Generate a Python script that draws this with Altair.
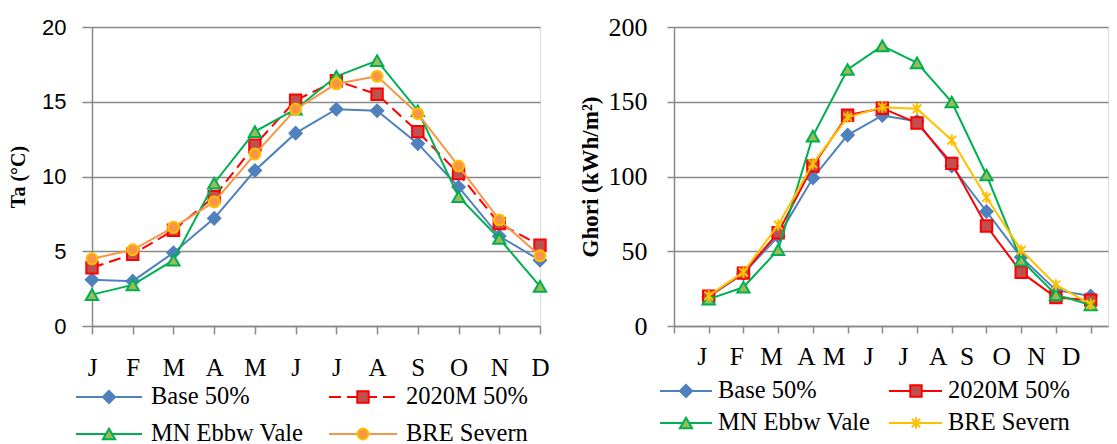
import altair as alt
import pandas as pd

months = ["J", "F", "M", "A", "M", "J", "J", "A", "S", "O", "N", "D"]
series_names = ["Base 50%", "2020M 50%", "MN Ebbw Vale", "BRE Severn"]

# Air temperature Ta (°C)
ta_base = [3.1, 3.0, 4.9, 7.2, 10.4, 12.9, 14.5, 14.4, 12.2, 9.3, 6.0, 4.4]
ta_2020m = [3.9, 4.8, 6.4, 8.65, 12.1, 15.1, 16.4, 15.5, 13.0, 10.2, 6.85, 5.4]
ta_mn = [2.1, 2.75, 4.4, 9.55, 13.0, 14.5, 16.7, 17.75, 14.4, 8.65, 5.85, 2.65]
ta_bre = [4.5, 5.1, 6.6, 8.3, 11.5, 14.5, 16.2, 16.7, 14.2, 10.7, 7.1, 4.7]

# Global horizontal irradiation Ghori (kWh/m²)
gh_base = [19.6, 35, 60, 99, 127.7, 140.8, 137, 107, 76.6, 46, 24, 20]
gh_2020m = [20, 35.4, 62.4, 107, 141, 145.7, 135.8, 108.8, 66.9, 36, 19, 17.3]
gh_mn = [18, 25.9, 51, 127, 171.6, 187.4, 176, 149.8, 101, 44, 21, 14]
gh_bre = [20.3, 36, 67.6, 108.6, 139.6, 146.4, 145.3, 124.3, 86, 50.7, 27.5, 14.6]

GREY = "#898989"
SERIF = "Liberation Serif"
SANS = "Liberation Sans"

ASTERISK = "M0,-1L0,1M-0.75,-0.75L0.75,0.75M-0.75,0.75L0.75,-0.75"

left_styles = {
    "Base 50%": dict(line="#4F81BD", shape="diamond", fill="#4F81BD", stroke="#4F81BD", size=150, filled=True),
    "2020M 50%": dict(line="#FF0000", dash=[12, 6], shape="square", fill="#C0504D", stroke="#FF0000", size=130, filled=True),
    "MN Ebbw Vale": dict(line="#00B050", shape="triangle-up", fill="#9BBB59", stroke="#00B050", size=150, filled=True),
    "BRE Severn": dict(line="#F79646", shape="circle", fill="#F79646", stroke="#FFC000", size=120, filled=True),
}
right_styles = {
    "Base 50%": dict(line="#4F81BD", shape="diamond", fill="#4F81BD", stroke="#4F81BD", size=150, filled=True),
    "2020M 50%": dict(line="#FF0000", shape="square", fill="#C0504D", stroke="#FF0000", size=130, filled=True),
    "MN Ebbw Vale": dict(line="#00B050", shape="triangle-up", fill="#9BBB59", stroke="#00B050", size=150, filled=True),
    "BRE Severn": dict(line="#FFC000", shape=ASTERISK, fill="#FFC000", stroke="#FFC000", size=130, filled=False),
}

label_list = "[" + ",".join("'%s'" % m for m in months) + "]"


def point_mark(st):
    if st["filled"]:
        return dict(shape=st["shape"], filled=True, fill=st["fill"], stroke=st["stroke"],
                    strokeWidth=2, size=st["size"], opacity=1)
    return dict(shape=st["shape"], filled=False, stroke=st["stroke"], strokeWidth=2,
                size=st["size"], opacity=1)


def line_mark(st):
    d = dict(color=st["line"], strokeWidth=2)
    if "dash" in st:
        d["strokeDash"] = st["dash"]
    return d


def panel(values, styles, xscale, xaxis, yscale, yaxis, legend, width, height):
    layers = []
    for name, vals in zip(series_names, values):
        st = styles[name]
        df = pd.DataFrame({"m": list(range(1, len(months) + 1)), "v": vals, "series": name})
        base = alt.Chart(df).encode(
            x=alt.X("m:Q", scale=xscale, axis=xaxis),
            y=alt.Y("v:Q", scale=yscale, axis=yaxis),
        )
        layers.append(base.mark_line(**line_mark(st)))
        layers.append(base.mark_point(**point_mark(st)))
    # legend
    for i, name in enumerate(series_names):
        st = styles[name]
        col, row = i % 2, i // 2
        x1, x2, xm, xt = legend["cols"][col]
        y = legend["rows"][row]
        ldf = pd.DataFrame({"label": [name]})
        layers.append(alt.Chart(ldf).mark_rule(**line_mark(st)).encode(
            x=alt.value(x1), x2=alt.value(x2), y=alt.value(y)))
        layers.append(alt.Chart(ldf).mark_point(**point_mark(st)).encode(
            x=alt.value(xm), y=alt.value(y)))
        layers.append(alt.Chart(ldf).mark_text(
            align="left", baseline="middle", font=SERIF, fontSize=24.5, color="black"
        ).encode(x=alt.value(xt), y=alt.value(y), text="label:N"))
    return alt.layer(*layers).properties(width=width, height=height)


left_x_axis = alt.Axis(
    values=list(range(1, 13)), labelExpr=label_list + "[datum.value-1]", title=None,
    grid=False, domainColor=GREY, domainWidth=1.5, tickColor=GREY, tickWidth=1.5, tickSize=8,
    labelFont=SERIF, labelFontSize=25, labelColor="black", labelPadding=21,
    labelFlush=False, labelOverlap=False, labelAngle=0,
)
left_y_axis = alt.Axis(
    values=[0, 5, 10, 15, 20], title="Ta (°C)", grid=True, gridColor=GREY, gridWidth=1.5,
    domainColor=GREY, domainWidth=1.5, tickColor=GREY, tickWidth=1.5, tickSize=10,
    labelFont=SANS, labelFontSize=22, labelColor="black", labelPadding=16,
    titleFont=SERIF, titleFontSize=20, titleFontWeight="bold", titleColor="black", titlePadding=13,
)
right_x_axis = alt.Axis(
    values=list(range(0, 13)),
    labelExpr="datum.value < 1 ? '' : " + label_list + "[datum.value-1]", title=None,
    grid=False, domainColor=GREY, domainWidth=1.5, tickColor=GREY, tickWidth=1.5, tickSize=7,
    labelFont=SERIF, labelFontSize=25.5, labelColor="black", labelPadding=11,
    labelFlush=False, labelOverlap=False, labelAngle=0,
    labelOffset={"condition": [{"test": "datum.value <= 4", "value": -7},
                               {"test": "datum.value <= 8", "value": -14}], "value": -20},
)
right_y_axis = alt.Axis(
    values=[0, 50, 100, 150, 200], title="Ghori (kWh/m²)", grid=True, gridColor=GREY, gridWidth=1.5,
    domainColor=GREY, domainWidth=1.5, tickColor=GREY, tickWidth=1.5, tickSize=7,
    labelFont=SERIF, labelFontSize=26, labelColor="black", labelPadding=20,
    titleFont=SERIF, titleFontSize=23, titleFontWeight="bold", titleColor="black", titlePadding=6,
)

left = panel(
    [ta_base, ta_2020m, ta_mn, ta_bre], left_styles,
    alt.Scale(domain=[1, 12], nice=False, zero=False), left_x_axis,
    alt.Scale(domain=[0, 20], nice=False), left_y_axis,
    legend={"cols": [(-16, 50, 17, 59), (237, 305, 271, 314)], "rows": [370, 407]},
    width=448, height=299,
)
right = panel(
    [gh_base, gh_2020m, gh_mn, gh_bre], right_styles,
    alt.Scale(domain=[0, 12.5], nice=False, zero=False), right_x_axis,
    alt.Scale(domain=[0, 200], nice=False), right_y_axis,
    legend={"cols": [(-14, 38, 12, 44), (215, 268, 242, 274)], "rows": [364, 396]},
    width=434, height=299,
)

chart = alt.hconcat(left, right, spacing=134, bounds="flush").properties(
    padding={"left": 0, "top": 5, "right": 0, "bottom": 0}
).configure_view(stroke="transparent").configure(background="white")

chart.save("out.html", embed_options={"renderer": "svg", "actions": False})
